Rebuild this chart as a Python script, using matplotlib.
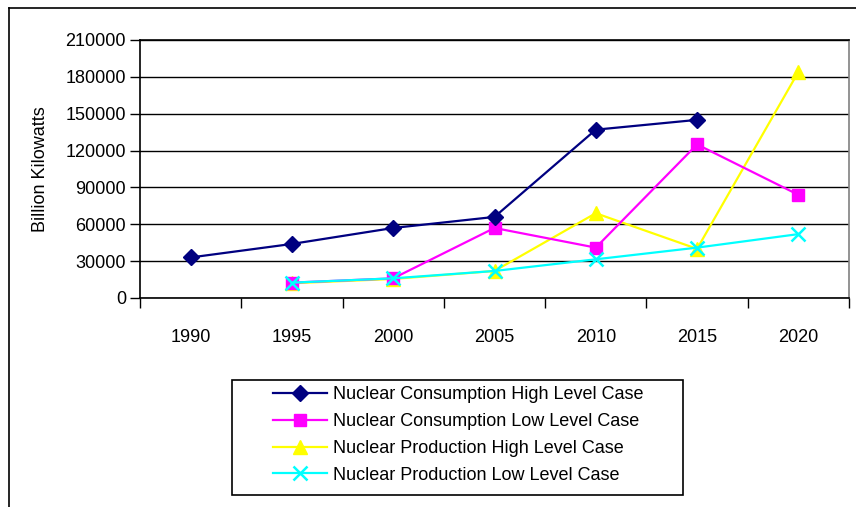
import matplotlib
matplotlib.use("Agg")
import matplotlib.pyplot as plt
from matplotlib.patches import Rectangle
from matplotlib.lines import Line2D
import numpy as np

years = ["1990", "1995", "2000", "2005", "2010", "2015", "2020"]
cons_high = [33000, 44000, 57000, 66000, 137000, 145000, np.nan]
cons_low = [np.nan, 12500, 16000, 57000, 41000, 125000, 84000]
prod_high = [np.nan, 12000, 15500, 22000, 69000, 40000, 184000]
prod_low = [np.nan, 12500, 16000, 22000, 31500, 41000, 52000]
labels = ["Nuclear Consumption High Level Case",
          "Nuclear Consumption Low Level Case",
          "Nuclear Production High Level Case",
          "Nuclear Production Low Level Case"]
yticks = [0, 30000, 60000, 90000, 120000, 150000, 180000, 210000]

plt.rcParams['font.family'] = ['Liberation Sans', 'DejaVu Sans']
FS = 13

W, H = 856, 507
fig = plt.figure(figsize=(W / 100, H / 100), dpi=100)

def fx(px):
    return px / W

def fy(py):
    return 1 - py / H

left, right, top, bottom = 140, 849, 40, 298
ax = fig.add_axes([fx(left), fy(bottom), fx(right - left), (bottom - top) / H])

x = np.arange(len(years))
ax.plot(x, cons_high, color='#000080', marker='D', markersize=8, lw=1.6, label=labels[0], zorder=5)
ax.plot(x, cons_low, color='#FF00FF', marker='s', markersize=8, lw=1.6, label=labels[1], zorder=4)
ax.plot(x, prod_high, color='#FFFF00', marker='^', markersize=10, lw=1.6, label=labels[2], zorder=3)
ax.plot(x, prod_low, color='#00FFFF', marker='x', markersize=10, mew=1.8, lw=1.6, label=labels[3], zorder=6)

ax.set_xlim(-0.5, len(years) - 0.5)
ax.set_ylim(0, 210000)
ax.set_yticks(yticks)
ax.set_yticklabels([str(v) for v in yticks], fontsize=FS)
ax.yaxis.grid(True, color='black', lw=1.0)
ax.set_axisbelow(True)

ax.set_xticks(np.arange(-0.5, len(years), 1.0))
ax.set_xticklabels([])
ax.set_xticks(x, minor=True)
ax.set_xticklabels(years, minor=True, fontsize=FS)
ax.tick_params(axis='x', which='minor', length=0, pad=22)
ax.tick_params(axis='x', which='major', length=7, width=1, direction='out')
ax.tick_params(axis='y', length=7, width=1, direction='out', pad=3)

for s in ['left', 'bottom']:
    ax.spines[s].set_color('black')
    ax.spines[s].set_linewidth(1.2)
ax.spines['top'].set_color('black')
ax.spines['top'].set_linewidth(1.2)
ax.spines['right'].set_color('#808080')
ax.spines['right'].set_linewidth(1.2)

ax.set_ylabel("Billion Kilowatts", fontsize=FS, labelpad=12)

# outer chart frame (partially cut off)
fig.add_artist(Line2D([fx(9), 1.0], [fy(8), fy(8)], color='black', lw=1.2, transform=fig.transFigure))
fig.add_artist(Line2D([fx(9), fx(9)], [fy(8), 0.0], color='black', lw=1.2, transform=fig.transFigure))

# legend box
fig.add_artist(Rectangle((fx(232), fy(495)), fx(683 - 232), (495 - 380) / H,
                         fill=False, edgecolor='black', lw=1.2, transform=fig.transFigure))
handles, labs = ax.get_legend_handles_labels()
leg = fig.legend(handles, labs, loc='upper left', bbox_to_anchor=(fx(273), fy(386)),
                 frameon=False, fontsize=FS, handlelength=3.0, handletextpad=0.35,
                 labelspacing=0.55, borderpad=0, borderaxespad=0)

fig.savefig("out.png", dpi=100)
